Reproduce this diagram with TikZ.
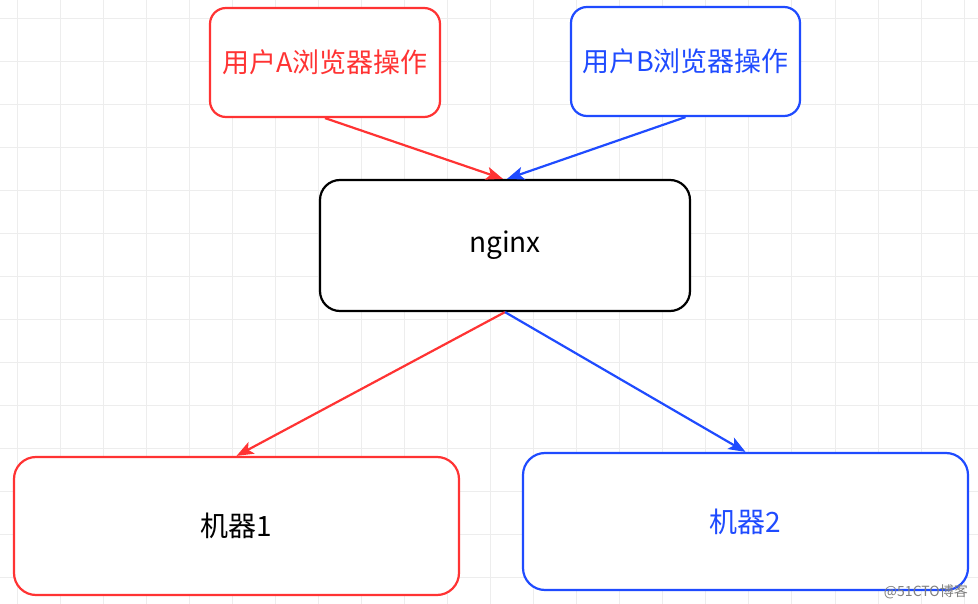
\documentclass[tikz,border=0pt]{standalone}
\usepackage{fontspec}
\newfontfamily\cjk{Noto Sans CJK SC}
\usetikzlibrary{arrows.meta}
\definecolor{myred}{HTML}{FF3333}
\definecolor{myblue}{HTML}{1F4BFF}
\definecolor{gridgray}{HTML}{EDEDED}
\tikzset{
  gridline/.style={draw=gridgray, line width=0.9pt},
  box/.style={rectangle, rounded corners=16pt, line width=2.2pt, fill=white, inner sep=0pt, align=center, font=\cjk\fontsize{28}{32}\selectfont},
  conn/.style={line width=2.2pt, -{Stealth[length=17pt,width=13pt,inset=4pt]}},
}
\begin{document}
\begin{tikzpicture}[x=1pt,y=-1pt]
\useasboundingbox (0,0) rectangle (978,604);
\fill[white] (0,0) rectangle (978,604);
\foreach \i in {0,...,22} \draw[gridline] ({17+43.05*\i},0) -- ({17+43.05*\i},604);
\foreach \j in {0,...,13} \draw[gridline] (0,{18+43.05*\j}) -- (978,{18+43.05*\j});
\node[box, draw=myred, text=myred, font=\cjk\fontsize{27}{31}\selectfont, minimum width=230pt, minimum height=109pt] (A) at (325,62.5) {用户A浏览器操作};
\node[box, draw=myblue, text=myblue, font=\cjk\fontsize{27}{31}\selectfont, minimum width=229pt, minimum height=109pt] (B) at (685.5,61.5) {用户B浏览器操作};
\node[box, draw=black, text=black, rounded corners=20pt, minimum width=370pt, minimum height=131pt] (N) at (505,245.5) {nginx};
\node[box, draw=myred, text=black, rounded corners=22pt, minimum width=445pt, minimum height=138pt] (M1) at (236.5,526) {机器1};
\node[box, draw=myblue, text=myblue, rounded corners=22pt, minimum width=445pt, minimum height=137pt] (M2) at (745.5,521.5) {机器2};
\draw[conn, myred] (A.south) -- ([xshift=-2pt]N.north);
\draw[conn, myblue] (B.south) -- ([xshift=2pt]N.north);
\draw[conn, myred] (N.south) -- (M1.north);
\draw[conn, myblue] (N.south) -- (M2.north);
\node[font=\cjk\fontsize{14}{16}\selectfont, text=black!50, anchor=east, inner sep=0pt] (wm) at (968,592) {@51CTO博客};
\end{tikzpicture}
\end{document}
